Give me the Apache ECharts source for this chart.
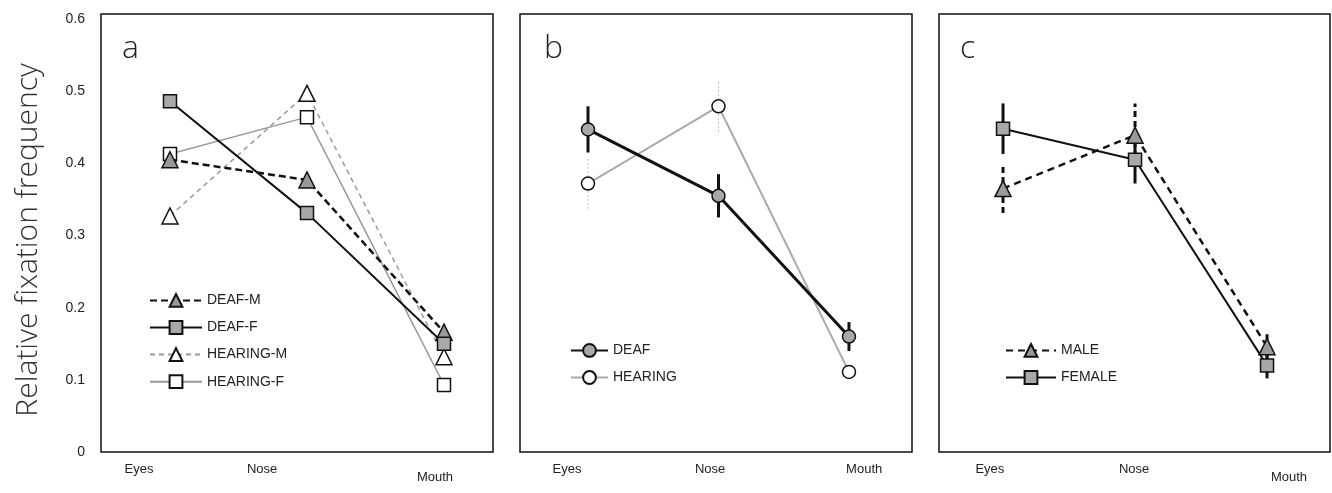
<!DOCTYPE html>
<html>
<head>
<meta charset="utf-8">
<script src="https://cdn.jsdelivr.net/npm/echarts@6.0.0/dist/echarts.min.js"></script>
<style>
html,body{margin:0;padding:0;background:#fff;}
#chart{width:1332px;height:493px;}
</style>
</head>
<body>
<div id="chart"></div>
<script>
// ---- data ----
const categories = ['Eyes', 'Nose', 'Mouth'];
const yTickLabels = ['0', '0.1', '0.2', '0.3', '0.4', '0.5', '0.6'];
const panelLetters = ['a', 'b', 'c'];

// panel a
const deafM = [0.405, 0.377, 0.166];
const deafF = [0.486, 0.331, 0.150];
const hearingM = [0.327, 0.497, 0.132];
const hearingF = [0.413, 0.464, 0.093];

// panel b
const deaf = [0.447, 0.355, 0.160];
const deafErr = [0.032, 0.030, 0.020];
const hearing = [0.372, 0.479, 0.111];
const hearingErr = [0.035, 0.036, 0.008];

// panel c
const male = [0.365, 0.439, 0.146];
const maleErr = [0.034, 0.044, 0.019];
const female = [0.448, 0.405, 0.120];
const femaleErr = [0.035, 0.033, 0.018];

// ---- layout ----
const grids = [
  {left: 101, top: 14, width: 392, height: 438},
  {left: 520, top: 14, width: 392, height: 438},
  {left: 939, top: 14, width: 391, height: 438}
];
const xRange = [[-0.5036, 2.3577], [-0.521, 2.483], [-0.485, 2.477]];
const labelPos = [[0.097, 0.411, 0.852], [0.12, 0.485, 0.878], [0.130, 0.499, 0.895]];
const mouthLow = [true, false, true];

const pts = arr => arr.map((v, i) => [i, v]);
const errs = (arr, e) => arr.map((v, i) => [i, v - e[i], v + e[i]]);

const FONT = '"Liberation Sans", Arial, sans-serif';
const chart = echarts.init(document.getElementById('chart'));

const xAxes = [], yAxes = [];
grids.forEach((g, k) => {
  xAxes.push({type: 'value', gridIndex: k, position: 'bottom', min: xRange[k][0], max: xRange[k][1], show: false});
  xAxes.push({
    type: 'value', gridIndex: k, position: 'bottom', min: 0, max: 1,
    axisLine: {show: false}, axisTick: {show: false}, splitLine: {show: false},
    axisLabel: {
      customValues: labelPos[k],
      margin: 11,
      fontFamily: FONT, fontSize: 13, color: '#222',
      formatter: function (v) {
        let idx = 0, best = 1e9;
        labelPos[k].forEach((p, i) => { if (Math.abs(p - v) < best) { best = Math.abs(p - v); idx = i; } });
        const name = categories[idx];
        return (idx === 2 && mouthLow[k]) ? '{lo|' + name + '}' : name;
      },
      rich: {lo: {padding: [8, 0, 0, 0], fontFamily: FONT, fontSize: 13, color: '#222'}}
    }
  });
  yAxes.push({
    type: 'value', gridIndex: k, min: 0, max: 0.6069, interval: 0.1,
    show: k === 0,
    axisLine: {show: false}, axisTick: {show: false}, splitLine: {show: false},
    axisLabel: {
      margin: 16, fontFamily: FONT, fontSize: 14, color: '#222',
      formatter: function (v) {
        const n = Math.round(v * 10);
        if (Math.abs(v * 10 - n) > 1e-6) return '';
        return yTickLabels[n] || '';
      }
    }
  });
});

function lineSeries(name, data, k, o) {
  return {
    type: 'line', name: name, data: pts(data),
    xAxisIndex: 2 * k, yAxisIndex: k,
    symbol: o.symbol, symbolSize: o.size,
    itemStyle: {color: o.fill, borderColor: o.border || '#111', borderWidth: o.bw || 1.5},
    lineStyle: {color: o.line, width: o.width, type: o.dash || 'solid'},
    z: o.z || 3, animation: false, emphasis: {disabled: true}
  };
}
function errSeries(data, e, k, o) {
  return {
    type: 'custom', data: errs(data, e), xAxisIndex: 2 * k, yAxisIndex: k,
    z: 2, animation: false, silent: true,
    renderItem: function (params, api) {
      const a = api.coord([api.value(0), api.value(1)]);
      const b = api.coord([api.value(0), api.value(2)]);
      return {
        type: 'line', shape: {x1: a[0], y1: a[1], x2: b[0], y2: b[1]},
        style: {stroke: o.color, lineWidth: o.width, lineDash: o.dash || null}
      };
    }
  };
}

const series = [
  // panel a
  lineSeries('HEARING-M', hearingM, 0, {symbol: 'triangle', size: 16, fill: '#fff', line: '#9a9a9a', width: 1.5, dash: [5, 4]}),
  lineSeries('HEARING-F', hearingF, 0, {symbol: 'rect', size: 13, fill: '#fff', line: '#9a9a9a', width: 1.5}),
  lineSeries('DEAF-M', deafM, 0, {symbol: 'triangle', size: 16, fill: '#9a9a9a', line: '#111', width: 2.5, dash: [7, 4], z: 4}),
  lineSeries('DEAF-F', deafF, 0, {symbol: 'rect', size: 13, fill: '#a8a8a8', line: '#111', width: 2, z: 4}),
  // panel b
  errSeries(hearing, hearingErr, 1, {color: '#bbb', width: 1, dash: [2, 2]}),
  errSeries(deaf, deafErr, 1, {color: '#111', width: 3}),
  lineSeries('HEARING', hearing, 1, {symbol: 'circle', size: 13, fill: '#fff', line: '#aaa', width: 2}),
  lineSeries('DEAF', deaf, 1, {symbol: 'circle', size: 13, fill: '#a8a8a8', line: '#111', width: 3, z: 4}),
  // panel c
  errSeries(male, maleErr, 2, {color: '#111', width: 3, dash: [6, 4]}),
  errSeries(female, femaleErr, 2, {color: '#111', width: 3}),
  lineSeries('MALE', male, 2, {symbol: 'triangle', size: 16, fill: '#9a9a9a', line: '#111', width: 2.5, dash: [7, 5], z: 4}),
  lineSeries('FEMALE', female, 2, {symbol: 'rect', size: 13, fill: '#a8a8a8', line: '#111', width: 2, z: 3})
];

const legendBase = {
  orient: 'vertical', itemHeight: 16, itemGap: 12.3, selectedMode: false, padding: 0,
  textStyle: {fontFamily: FONT, fontSize: 14, color: '#222'}
};

chart.setOption({
  backgroundColor: '#fff',
  animation: false,
  grid: grids.map(g => Object.assign({show: true, borderColor: '#111', borderWidth: 1.5, backgroundColor: 'transparent', containLabel: false, outerBoundsMode: 'none'}, g)),
  xAxis: xAxes,
  yAxis: yAxes,
  title: panelLetters.map((t, k) => ({
    text: t, left: [122, 544, 960][k], top: 33, padding: 0,
    textStyle: {fontFamily: '"Open Sans", "Liberation Sans", sans-serif', fontWeight: 300, fontSize: 32, color: '#222'}
  })),
  legend: [
    Object.assign({}, legendBase, {data: ['DEAF-M', 'DEAF-F', 'HEARING-M', 'HEARING-F'], left: 149, top: 293, itemWidth: 52}),
    Object.assign({}, legendBase, {data: ['DEAF', 'HEARING'], left: 570, top: 343, itemWidth: 37}),
    Object.assign({}, legendBase, {data: ['MALE', 'FEMALE'], left: 1005, top: 343, itemWidth: 50})
  ],
  graphic: [{
    type: 'text', x: 28, y: 240, rotation: Math.PI / 2,
    style: {text: 'Relative fixation frequency', align: 'center', verticalAlign: 'middle',
      fontFamily: '"Open Sans", "Liberation Sans", sans-serif', fontWeight: 300, fontSize: 30, fill: '#333'}
  }],
  series: series
});
</script>
</body>
</html>
